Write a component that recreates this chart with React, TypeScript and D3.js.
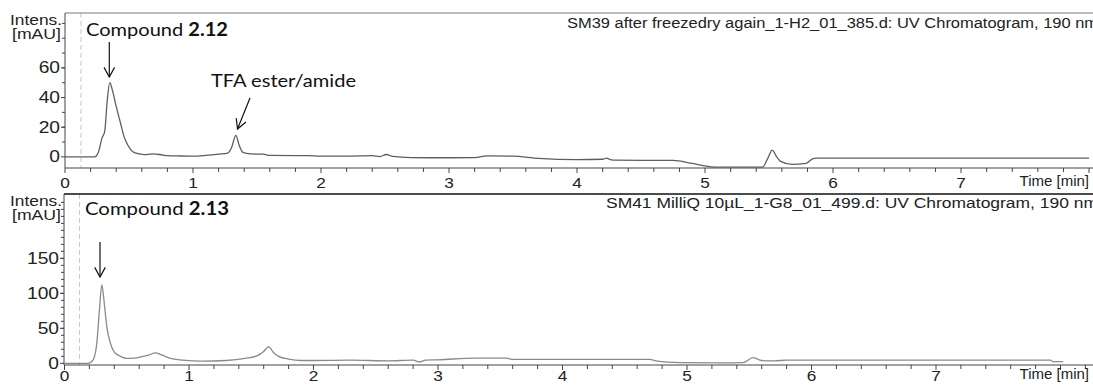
import { useEffect, useRef } from "react";
import * as d3 from "d3";

// top run: SM39 after freezedry (time in min, intensity in mAU)
const topTimes = [0, 0.23, 0.26, 0.29, 0.31, 0.33, 0.35, 0.37, 0.4, 0.43, 0.46, 0.49, 0.53, 0.58, 0.62, 0.68, 0.74, 0.8, 0.9, 1.0, 1.1, 1.2, 1.27, 1.3, 1.335, 1.36, 1.39, 1.45, 1.55, 1.6, 1.9, 2.0, 2.2, 2.4, 2.46, 2.51, 2.56, 2.7, 3.0, 3.2, 3.3, 3.5, 3.7, 4.0, 4.2, 4.23, 4.26, 4.3, 4.75, 4.9, 5.05, 5.1, 5.45, 5.49, 5.525, 5.56, 5.59, 5.68, 5.79, 5.84, 5.87, 8.0];
const topValues = [0, 0, 3, 13, 17, 38, 50, 45, 34, 24, 14, 8, 3.5, 2, 1.5, 2, 1.6, 0.8, 0.6, 0.5, 1, 1.8, 2.5, 6, 14.5, 8, 3, 2, 1.8, 1, 0.8, 0.5, 0.5, 0.8, 0.2, 1.6, 0.3, -0.5, -0.6, -0.5, 0.7, 0.5, -1, -1.8, -1.6, -0.9, -1.8, -2.2, -2.4, -4.4, -6.7, -6.9, -6.9, -1, 4.5, 0, -3, -5, -4.4, -1.3, -0.9, -0.9];

// bottom run: SM41 MilliQ 10µL
const botTimes = [0, 0.19, 0.23, 0.26, 0.28, 0.3, 0.32, 0.34, 0.37, 0.4, 0.45, 0.5, 0.56, 0.62, 0.68, 0.73, 0.78, 0.85, 0.95, 1.1, 1.3, 1.45, 1.55, 1.6, 1.64, 1.68, 1.72, 1.8, 1.9, 2.0, 2.3, 2.6, 2.8, 2.85, 2.9, 3.0, 3.3, 3.55, 3.6, 4.7, 4.75, 4.95, 5.3, 5.45, 5.53, 5.6, 5.7, 5.8, 6.0, 7.0, 7.92, 7.94, 8.02];
const botValues = [0, 0, 5, 30, 75, 112, 85, 52, 28, 16, 10, 7, 7.5, 9.5, 12, 15, 12, 7, 4.5, 3, 4, 7, 11, 17, 24, 15, 10, 6, 4, 4, 4.5, 3.5, 4.5, 2, 4.5, 5, 7.5, 7.5, 5.5, 5.5, 3.5, 1, 0.5, 1, 8, 4, 3.5, 4.5, 4.5, 4.5, 4.5, 2.5, 2.5];

const xTickLabels = [0, 1, 2, 3, 4, 5, 6, 7];
const topYTicks = [0, 20, 40, 60];
const botYTicks = [0, 50, 100, 150];

const topTitle = "SM39 after freezedry again_1-H2_01_385.d: UV Chromatogram, 190 nm";
const botTitle = "SM41 MilliQ 10µL_1-G8_01_499.d: UV Chromatogram, 190 nm";

const W = 1093;
const H = 385;
const SANS = "'Liberation Sans', Arial, sans-serif";
const CAL = "Lato, 'Open Sans', sans-serif";

export default function App() {
  const ref = useRef<SVGSVGElement | null>(null);

  useEffect(() => {
    const svg = d3.select(ref.current);
    svg.selectAll("*").remove();

    const panels = [
      {
        times: topTimes, values: topValues, title: topTitle, titleX: 567, titleY: 28,
        x: d3.scaleLinear().domain([0, 8.023]).range([65, 1092]),
        y: d3.scaleLinear().domain([-7.5, 97]).range([168, 13]),
        yTicks: topYTicks, yMinor: d3.range(10, 100, 10), stroke: "#5e5e5e",
        top: 13, bottom: 168, left: 65, topLine: "#777", topW: 1,
        intensY: 25, labelY: 188, dashX: 0.125,
      },
      {
        times: botTimes, values: botValues, title: botTitle, titleX: 606, titleY: 208,
        x: d3.scaleLinear().domain([0, 8.253]).range([64.5, 1092]),
        y: d3.scaleLinear().domain([-2.4, 242]).range([365, 194]),
        yTicks: botYTicks, yMinor: d3.range(10, 250, 10), stroke: "#8a8a8a",
        top: 194, bottom: 365, left: 64, topLine: "#111", topW: 1.5,
        intensY: 206, labelY: 381, dashX: 0.12,
      },
    ];

    panels.forEach((p) => {
      const g = svg.append("g");

      // dashed marker line
      g.append("line")
        .attr("x1", p.x(p.dashX)).attr("x2", p.x(p.dashX))
        .attr("y1", p.top).attr("y2", p.bottom)
        .attr("stroke", "#c8c8c8").attr("stroke-dasharray", "5,3");

      // frame
      g.append("line")
        .attr("x1", p.left).attr("x2", W).attr("y1", p.top).attr("y2", p.top)
        .attr("stroke", p.topLine).attr("stroke-width", p.topW);
      g.append("line")
        .attr("x1", p.left).attr("x2", p.left).attr("y1", p.top).attr("y2", p.bottom)
        .attr("stroke", "#444");
      g.append("line")
        .attr("x1", p.left).attr("x2", W).attr("y1", p.bottom).attr("y2", p.bottom)
        .attr("stroke", "#444");

      // x ticks
      const x1 = p.x.domain()[1];
      const minor = d3.range(0, Math.floor(x1 * 5 + 1e-6) + 1).map((i) => i / 5);
      g.selectAll(".xt").data(minor).enter().append("line")
        .attr("x1", (d) => p.x(d)).attr("x2", (d) => p.x(d))
        .attr("y1", p.bottom).attr("y2", (d) => p.bottom + (Math.abs(d - Math.round(d)) < 1e-6 ? 5 : 4))
        .attr("stroke", "#444");
      g.selectAll(".xl").data(xTickLabels).enter().append("text")
        .attr("transform", (d) => `translate(${p.x(d)},${p.labelY}) scale(1.15,1)`)
        .attr("text-anchor", "middle")
        .attr("font-family", SANS).attr("font-size", 15).attr("fill", "#222")
        .text((d) => d);
      g.append("text")
        .attr("x", 1089).attr("y", p.labelY - 2)
        .attr("text-anchor", "end")
        .attr("font-family", SANS).attr("font-size", 15).attr("fill", "#222")
        .text("Time [min]");

      // y ticks
      g.selectAll(".ym").data(p.yMinor.filter((d) => p.y(d) > p.top + 2)).enter().append("line")
        .attr("x1", p.left - 3).attr("x2", p.left)
        .attr("y1", (d) => p.y(d)).attr("y2", (d) => p.y(d))
        .attr("stroke", "#444");
      g.selectAll(".yt").data(p.yTicks).enter().append("line")
        .attr("x1", p.left - 4).attr("x2", p.left)
        .attr("y1", (d) => p.y(d)).attr("y2", (d) => p.y(d))
        .attr("stroke", "#444");
      g.selectAll(".yl").data(p.yTicks).enter().append("text")
        .attr("transform", (d) => `translate(${p.left - 5},${p.y(d) + 5.5}) scale(1.2,1)`)
        .attr("text-anchor", "end")
        .attr("font-family", SANS).attr("font-size", 16).attr("fill", "#222")
        .text((d) => d);

      g.append("text")
        .attr("x", 10).attr("y", p.intensY)
        .attr("textLength", 52).attr("lengthAdjust", "spacingAndGlyphs")
        .attr("font-family", SANS).attr("font-size", 14).attr("fill", "#222")
        .text("Intens.");
      g.append("text")
        .attr("x", 12).attr("y", p.intensY + 14)
        .attr("textLength", 49).attr("lengthAdjust", "spacingAndGlyphs")
        .attr("font-family", SANS).attr("font-size", 14).attr("fill", "#222")
        .text("[mAU]");

      // title
      g.append("text")
        .attr("x", p.titleX).attr("y", p.titleY)
        .attr("textLength", 1098 - p.titleX).attr("lengthAdjust", "spacingAndGlyphs")
        .attr("font-family", SANS).attr("font-size", 14).attr("fill", "#222")
        .text(p.title);

      // trace
      const pts = p.times.map((t, i) => [t, p.values[i]] as [number, number]);
      const line = d3.line<[number, number]>()
        .x((d) => p.x(d[0])).y((d) => p.y(d[1]))
        .curve(d3.curveMonotoneX);
      g.append("path")
        .attr("d", line(pts))
        .attr("fill", "none").attr("stroke", p.stroke).attr("stroke-width", 1.3);
    });

    // annotations
    const ann = svg.append("g");
    const addLabel = (x: number, y: number, len: number, plain: string, bold?: string) => {
      const t = ann.append("text")
        .attr("x", x).attr("y", y)
        .attr("textLength", len).attr("lengthAdjust", "spacingAndGlyphs")
        .attr("font-family", CAL).attr("font-size", 18).attr("fill", "#111");
      t.append("tspan").text(plain);
      if (bold) t.append("tspan").attr("font-weight", "bold").text(bold);
    };
    addLabel(86, 36, 142, "Compound ", "2.12");
    addLabel(211, 87, 145, "TFA ester/amide");
    addLabel(85, 215, 144, "Compound ", "2.13");

    const arrow = (xa: number, ya: number, xb: number, yb: number) => {
      const ang = Math.atan2(yb - ya, xb - xa);
      const len = 11;
      const spread = 0.5;
      ann.append("line")
        .attr("x1", xa).attr("y1", ya).attr("x2", xb).attr("y2", yb)
        .attr("stroke", "#111").attr("stroke-width", 1.2);
      const p1 = [xb - len * Math.cos(ang - spread), yb - len * Math.sin(ang - spread)];
      const p2 = [xb - len * Math.cos(ang + spread), yb - len * Math.sin(ang + spread)];
      ann.append("path")
        .attr("d", `M${p1[0]},${p1[1]}L${xb},${yb}L${p2[0]},${p2[1]}`)
        .attr("fill", "none").attr("stroke", "#111").attr("stroke-width", 1.2);
    };
    arrow(109.3, 42, 109.3, 77);
    arrow(250, 98, 237.5, 129);
    arrow(100, 242, 100, 277);
  }, []);

  return (
    <svg
      ref={ref}
      width={W}
      height={H}
      style={{ position: "absolute", left: 0, top: 0, background: "#fff" }}
    />
  );
}
